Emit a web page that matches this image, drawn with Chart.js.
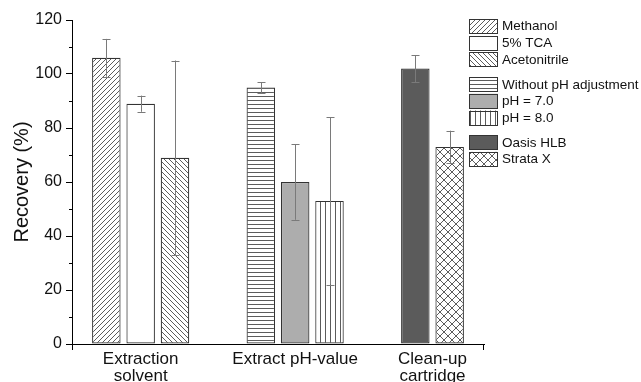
<!DOCTYPE html>
<html>
<head>
<meta charset="utf-8">
<script src="https://cdn.jsdelivr.net/npm/chart.js@4/dist/chart.umd.min.js"></script>
<style>
  html, body { margin: 0; padding: 0; background: #fff; }
  #wrap { width: 641px; height: 382px; position: relative; }
</style>
</head>
<body>
<div id="wrap"><canvas id="c" width="641" height="382"></canvas></div>
<script>
// ---------------- data ----------------
const groupLabels = [['Extraction', 'solvent'], 'Extract pH-value', ['Clean-up', 'cartridge']];
const seriesNames = ['Methanol', '5% TCA', 'Acetonitrile', 'Without pH adjustment', 'pH = 7.0', 'pH = 8.0', 'Oasis HLB', 'Strata X'];
const seriesGroup = [0, 0, 0, 1, 1, 1, 2, 2];
const recovery = [106, 89, 69, 95, 60, 53, 102, 73];
const errorSD = [7, 3, 36, 2, 14, 31, 5, 6];
const yTickValues = [0, 20, 40, 60, 80, 100, 120];

// ---------------- patterns ----------------
const LINE = '#4a4a4a';
function makePattern(kind) {
  const c = document.createElement('canvas');
  const ctx = c.getContext('2d');
  let s;
  if (kind === 'fwd' || kind === 'back') s = 5;
  else if (kind === 'horiz') s = 4;
  else if (kind === 'vert') s = 5;
  else if (kind === 'cross') s = 8;
  c.width = s; c.height = s;
  ctx.fillStyle = '#fff';
  ctx.fillRect(0, 0, s, s);
  ctx.strokeStyle = LINE;
  ctx.lineWidth = 0.9;
  ctx.beginPath();
  if (kind === 'fwd' || kind === 'cross') {
    ctx.moveTo(-1, s + 1); ctx.lineTo(s + 1, -1);
    ctx.moveTo(-1, 1); ctx.lineTo(1, -1);
    ctx.moveTo(s - 1, s + 1); ctx.lineTo(s + 1, s - 1);
  }
  if (kind === 'back' || kind === 'cross') {
    ctx.moveTo(-1, -1); ctx.lineTo(s + 1, s + 1);
    ctx.moveTo(s - 1, -1); ctx.lineTo(s + 1, 1);
    ctx.moveTo(-1, s - 1); ctx.lineTo(1, s + 1);
  }
  if (kind === 'horiz') { ctx.moveTo(0, 0.5); ctx.lineTo(s, 0.5); }
  if (kind === 'vert') { ctx.moveTo(0.5, 0); ctx.lineTo(0.5, s); }
  ctx.stroke();
  return ctx.createPattern(c, 'repeat');
}
const fills = [
  makePattern('fwd'), '#ffffff', makePattern('back'),
  makePattern('horiz'), '#adadad', makePattern('vert'),
  '#5b5b5b', makePattern('cross')
];

// slot positions derived from group structure (one slot per bar, 1.5 slot gap between groups)
const positions = seriesGroup.map((g, i) => 1 + i + 1.5 * g);
const groupCenters = groupLabels.map((_, g) => {
  const p = positions.filter((_, i) => seriesGroup[i] === g);
  return p.reduce((a, b) => a + b, 0) / p.length;
});

const datasets = seriesNames.map((name, i) => ({
  label: name,
  data: [{ x: positions[i], y: recovery[i] }],
  err: errorSD[i],
  group: seriesGroup[i],
  backgroundColor: fills[i],
  borderColor: '#333333',
  borderWidth: 1.2,
  borderSkipped: false,
  grouped: false,
  categoryPercentage: 1,
  barPercentage: 0.83
}));

const FONT = "'Liberation Sans', Arial, sans-serif";

// ---------------- plugins ----------------
const errorBars = {
  id: 'errorBars',
  afterDatasetsDraw(chart) {
    const ctx = chart.ctx, y = chart.scales.y;
    ctx.save();
    ctx.strokeStyle = '#7a7a7a';
    ctx.lineWidth = 1;
    chart.data.datasets.forEach((ds, i) => {
      const el = chart.getDatasetMeta(i).data[0];
      const v = ds.data[0].y;
      const x = Math.round(el.x) + 0.5;
      const yt = y.getPixelForValue(v + ds.err), yb = y.getPixelForValue(v - ds.err);
      ctx.beginPath();
      ctx.moveTo(x, yt); ctx.lineTo(x, yb);
      ctx.moveTo(x - 4, Math.round(yt) + 0.5); ctx.lineTo(x + 4, Math.round(yt) + 0.5);
      ctx.moveTo(x - 4, Math.round(yb) + 0.5); ctx.lineTo(x + 4, Math.round(yb) + 0.5);
      ctx.stroke();
    });
    ctx.restore();
  }
};

const extraTicks = {
  id: 'extraTicks',
  afterDraw(chart) {
    const ctx = chart.ctx, y = chart.scales.y, a = chart.chartArea;
    ctx.save();
    ctx.strokeStyle = '#000';
    ctx.lineWidth = 1;
    ctx.beginPath();
    for (let i = 0; i < yTickValues.length - 1; i++) {
      const v = (yTickValues[i] + yTickValues[i + 1]) / 2;
      const py = Math.round(y.getPixelForValue(v)) + 0.5;
      ctx.moveTo(a.left - 3, py); ctx.lineTo(a.left, py);
    }
    const l = Math.round(a.left) + 0.5, r = Math.round(a.right) - 0.5;
    ctx.moveTo(l, a.bottom); ctx.lineTo(l, a.bottom + 6);
    ctx.moveTo(r, a.bottom); ctx.lineTo(r, a.bottom + 6);
    ctx.stroke();
    ctx.restore();
  }
};

const groupedLegend = {
  id: 'groupedLegend',
  afterDraw(chart) {
    const ctx = chart.ctx;
    const bx = 469, bw = 29, bh = 14.5, pitch = 16.7, gap = 8;
    let top = 19, prevGroup = null;
    ctx.save();
    ctx.font = '13.5px ' + FONT;
    ctx.textBaseline = 'middle';
    chart.data.datasets.forEach((ds, i) => {
      if (prevGroup !== null) top += pitch + (ds.group !== prevGroup ? gap : 0);
      prevGroup = ds.group;
      ctx.fillStyle = ds.backgroundColor;
      ctx.fillRect(bx, top, bw, bh);
      ctx.strokeStyle = '#333';
      ctx.lineWidth = 1;
      ctx.strokeRect(bx + 0.5, Math.round(top) + 0.5, bw - 1, Math.round(bh) - 1);
      ctx.fillStyle = '#111';
      ctx.fillText(ds.label, bx + bw + 4, top + bh / 2 + 0.5);
    });
    ctx.restore();
  }
};

new Chart(document.getElementById('c'), {
  type: 'bar',
  data: { datasets },
  plugins: [errorBars, extraTicks, groupedLegend],
  options: {
    responsive: false,
    animation: false,
    layout: { padding: { left: 0, right: 157, top: 20, bottom: 0 } },
    plugins: { legend: { display: false }, tooltip: { enabled: false } },
    scales: {
      x: {
        type: 'linear',
        min: 0, max: 12,
        offset: false,
        afterBuildTicks: s => { s.ticks = groupCenters.map(v => ({ value: v })); },
        afterFit: s => { s.height = 38; },
        grid: { display: false },
        border: { display: true, color: '#000', width: 1 },
        ticks: {
          autoSkip: false, maxRotation: 0, padding: -1,
          color: '#111',
          font: { family: FONT, size: 17, lineHeight: 0.98 },
          callback: (v, i) => groupLabels[i]
        }
      },
      y: {
        min: 0, max: 120,
        afterBuildTicks: s => { s.ticks = yTickValues.map(v => ({ value: v })); },
        afterFit: s => { s.width = 72; },
        grid: { display: true, drawOnChartArea: false, drawTicks: true, tickLength: 6, tickColor: '#000', tickWidth: 1 },
        border: { display: true, color: '#000', width: 1 },
        ticks: { padding: 4, color: '#111', font: { family: FONT, size: 16 } },
        title: {
          display: true, text: 'Recovery (%)', color: '#111',
          font: { family: FONT, size: 20 },
          padding: { top: 10, bottom: 0 }
        }
      }
    }
  }
});
</script>
</body>
</html>
